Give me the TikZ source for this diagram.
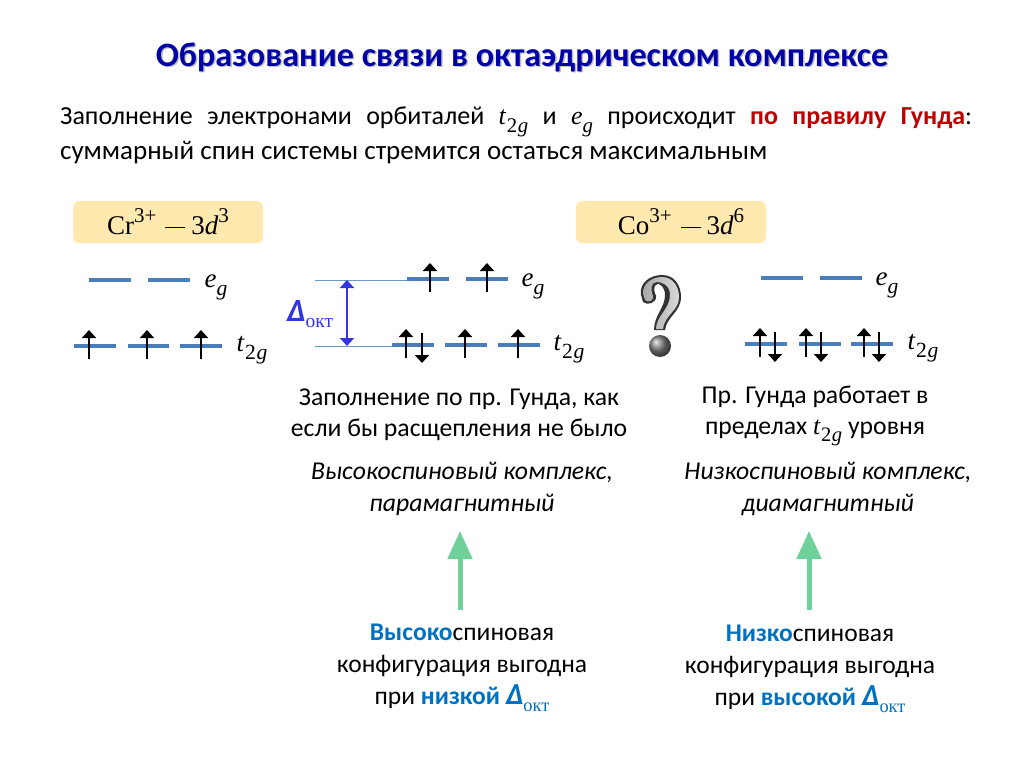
\documentclass[tikz,border=0pt]{standalone}
\usepackage{fontspec}
\setmainfont{Carlito}
\newfontfamily\mathf{Liberation Serif}
\usetikzlibrary{arrows.meta,shadows}
\definecolor{lvl}{HTML}{4A7EBB}
\definecolor{boxy}{HTML}{FFE9AE}
\definecolor{dblue}{HTML}{3434E0}
\definecolor{tblue}{HTML}{0070C0}
\definecolor{tgreen}{HTML}{6FD09A}
\definecolor{tred}{HTML}{C00000}
\definecolor{ttl}{HTML}{0000A8}
\newcommand{\tgg}{{\mathf\itshape t\kern1pt\raisebox{-0.3em}{\fontsize{0.8em}{1em}\selectfont\upshape 2\kern0.5pt\itshape g}}}
\newcommand{\egg}{{\mathf\itshape e\raisebox{-0.3em}{\fontsize{0.8em}{1em}\selectfont\itshape g}}}
\newcommand{\dokt}{{\bfseries\itshape\fontsize{1.2em}{1em}\selectfont Δ}{\mathf\raisebox{-0.25em}{\fontsize{0.72em}{1em}\selectfont окт}}}
\newcommand{\lvlline}[3]{\draw[levelline] (#1,#3) -- (#2,#3);}
\newcommand{\spinup}[2]{\draw[spinarrow] (#1,#2+13) -- (#1,#2-16);}
\newcommand{\spindown}[2]{\draw[spinarrow] (#1,#2-12) -- (#1,#2+18);}
\newcommand{\supr}[1]{\raisebox{0.45em}{\fontsize{21}{22}\selectfont #1}}
\tikzset{
  x=1pt,y=-1pt,
  levelline/.style={draw=lvl,line width=3.6pt},
  spinarrow/.style={draw=black,line width=1.8pt,-{Triangle[length=8pt,width=14pt]}},
  refline/.style={draw=lvl!80,line width=0.9pt},
  body/.style={font=\fontsize{25.7}{31}\selectfont,align=center,inner sep=0pt},
  ital/.style={font=\fontsize{25.7}{32}\selectfont\itshape,align=center,inner sep=0pt},
  orb/.style={font=\fontsize{27}{30}\selectfont,inner sep=0pt},
  ion/.style={fill=boxy,rounded corners=6pt,minimum width=190pt,minimum height=42pt,inner sep=0pt,font=\fontsize{27}{30}\selectfont\mathf},
  greenup/.style={draw=tgreen,line width=5pt,-{Triangle[length=28pt,width=24pt]}},
}
\begin{document}
\begin{tikzpicture}
\useasboundingbox (0,0) rectangle (1024,767);
% title
\node[font=\fontsize{34.2}{38}\selectfont\bfseries,text=black!25,inner sep=0pt] (titleshadow) at (523.5,58.5) {Образование связи в октаэдрическом комплексе};
\node[font=\fontsize{34.2}{38}\selectfont\bfseries,text=ttl,inner sep=0pt] (title) at (522,57) {Образование связи в октаэдрическом комплексе};
% paragraph
\node[anchor=base west,inner sep=0pt,font=\fontsize{26}{30}\selectfont] (para1) at (60,125) {\makebox[912pt][s]{Заполнение электронами орбиталей \tgg{} и \egg{} происходит {\bfseries\color{tred}по правилу Гунда}:}};
\node[anchor=base west,inner sep=0pt,font=\fontsize{27}{30}\selectfont] (para2) at (60,160) {суммарный спин системы стремится остаться максимальным};
% ion boxes
\node[ion] (cr) at (168,222) {Cr\supr{3+}\hspace{9pt}\rule[0.24em]{20pt}{1pt}\hspace{6pt}3{\itshape d}\supr{3}};
\node[ion] (co) at (671,222) {\hspace*{20pt}Co\supr{3+}\hspace{9pt}\rule[0.24em]{20pt}{1pt}\hspace{6pt}3{\itshape d}\supr{6}};
% Cr levels
\lvlline{89}{131}{280}\lvlline{148}{190}{280}
\lvlline{74}{116}{346}\lvlline{128}{169}{346}\lvlline{180}{222}{346}
\spinup{89}{346}\spinup{147}{346}\spinup{201}{346}
\node[orb] (eg1) at (216,287) {\egg};
\node[orb] (tg1) at (252,350) {\tgg};
% middle: splitting
\coordinate (da) at (347,280);
\coordinate (db) at (347,346);
\draw[refline] (315,280) -- (407,280);
\draw[refline] (315,346) -- (392,346);
\draw[draw=dblue,line width=1.8pt,{Triangle[length=8pt,width=14pt]}-{Triangle[length=8pt,width=14pt]}] (da) -- (db);
\node[font=\fontsize{27}{30}\selectfont,text=dblue,inner sep=0pt] (delta) at (310,314) {\dokt};
\lvlline{407}{449}{279}\lvlline{466}{508}{279}
\lvlline{392}{434}{345}\lvlline{445}{487}{345}\lvlline{498}{540}{345}
\spinup{430}{279}\spinup{487}{279}
\spinup{406}{345}\spindown{422}{345}\spinup{465}{345}\spinup{518}{345}
\node[orb] (eg2) at (533,286) {\egg};
\node[orb] (tg2) at (569,349) {\tgg};
% question mark
\fill[black!80] (641,295) .. controls (639,283) and (650,275) .. (662,275) .. controls (675,275) and (681,286) .. (681,297) .. controls (681,312) and (667,316) .. (665,330) -- (654,330) .. controls (654,315) and (665,308) .. (665,295) .. controls (665,287) and (660,284) .. (658,284) .. controls (654,284) and (653,290) .. (656,296) .. controls (657,303) and (647,306) .. (643,302) -- cycle;
\shade[left color=black!35,right color=black!15] (643,294) .. controls (642,284) and (652,277) .. (662,277) .. controls (673,277) and (679,287) .. (679,297) .. controls (679,311) and (665,314) .. (663,329) -- (656,329) .. controls (656,316) and (670,309) .. (670,295) .. controls (670,285) and (662,282) .. (657,282) .. controls (651,282) and (650,289) .. (653,296) .. controls (654,301) and (648,303) .. (645,300) -- cycle;
\shade[ball color=black!50] (660,346) circle (11);
% Co levels
\lvlline{761}{803}{278}\lvlline{820}{862}{278}
\lvlline{745}{787}{344}\lvlline{799}{841}{344}\lvlline{851}{893}{344}
\spinup{760}{344}\spindown{775}{344}
\spinup{806}{344}\spindown{821}{344}
\spinup{864}{344}\spindown{879}{344}
\node[orb] (eg3) at (887,285) {\egg};
\node[orb] (tg3) at (923,348) {\tgg};
% explanations
\node[body] (ex1) at (459,415) {Заполнение по пр. Гунда, как\\если бы расщепления не было};
\node[body] (ex2) at (815,416) {Пр. Гунда работает в\\пределах \tgg{} уровня};
\node[ital] (ty1) at (462,489) {Высокоспиновый комплекс,\\парамагнитный};
\node[ital] (ty2) at (828,489) {Низкоспиновый комплекс,\\диамагнитный};
% bottom notes
\node[body,font=\fontsize{25.5}{32}\selectfont] (no1) at (462,668) {{\bfseries\color{tblue}Высоко}спиновая\\конфигурация выгодна\\при {\bfseries\color{tblue}низкой} {\color{tblue}\dokt}};
\node[body,font=\fontsize{25.5}{32}\selectfont] (no2) at (810,669) {{\bfseries\color{tblue}Низко}спиновая\\конфигурация выгодна\\при {\bfseries\color{tblue}высокой} {\color{tblue}\dokt}};
\coordinate (g1a) at (460,610);
\coordinate (g1b) at (460,531);
\coordinate (g2a) at (809,610);
\coordinate (g2b) at (809,531);
\draw[greenup] (g1a) -- (g1b);
\draw[greenup] (g2a) -- (g2b);
\end{tikzpicture}
\end{document}
